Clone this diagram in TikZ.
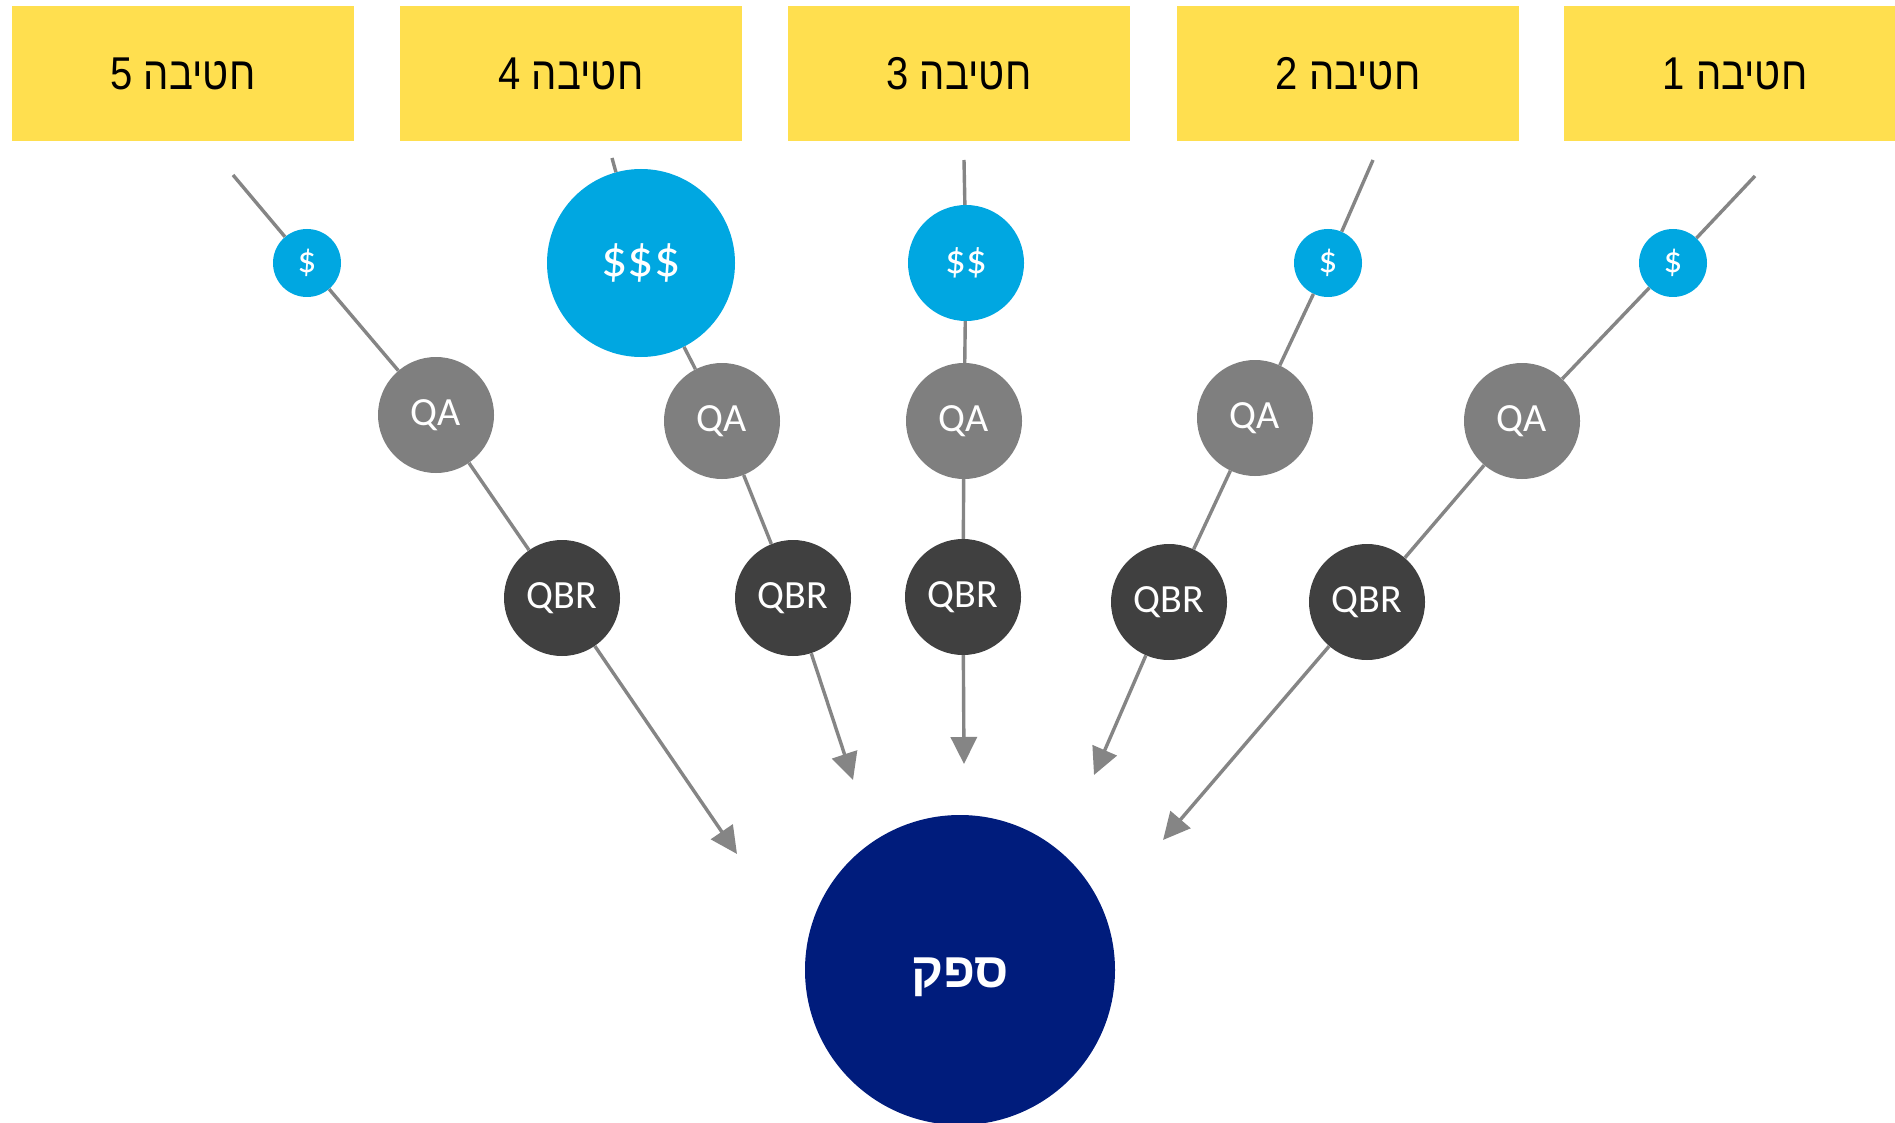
\documentclass[tikz,border=0pt]{standalone}
\usepackage{fontspec}
\usepackage{graphicx}
\setmainfont{Carlito}
\newfontfamily\hebfont[Script=Hebrew]{Liberation Sans}
\TeXXeTstate=1
\usetikzlibrary{arrows.meta}
\definecolor{hdr}{HTML}{FFDF4F}
\definecolor{cblue}{HTML}{00A7E1}
\definecolor{cgray}{HTML}{7F7F7F}
\definecolor{cdark}{HTML}{404040}
\definecolor{cnavy}{HTML}{001C7C}
\definecolor{lgray}{HTML}{858585}
\newcommand{\hebtitle}[1]{\raisebox{-2pt}{\scalebox{1}[1.15]{\beginR #1\endR}}}
\begin{document}
\begin{tikzpicture}[x=1pt,y=-1pt,
  hdrbox/.style={fill=hdr, minimum width=342pt, minimum height=135pt, inner sep=0pt,
    font=\hebfont\fontsize{40}{48}\selectfont},
  money/.style={circle, fill=cblue, text=white, inner sep=0pt},
  m1/.style={money, minimum size=68pt, font=\fontsize{37}{44}\selectfont},
  m2/.style={money, minimum size=116pt, font=\fontsize{41}{48}\selectfont},
  m3/.style={money, minimum size=188pt, font=\fontsize{52}{60}\selectfont},
  qa/.style={circle, fill=cgray, text=white, minimum size=116pt, inner sep=0pt,
    font=\fontsize{40}{48}\selectfont},
  qbr/.style={circle, fill=cdark, text=white, minimum size=116pt, inner sep=0pt,
    font=\fontsize{40}{48}\selectfont},
  link/.style={draw=lgray, line width=3.4pt},
  arr/.style={link, -{Triangle[length=27pt,width=26pt]}}
]
\useasboundingbox (0,0) rectangle (1895,1123);
\fill[white] (0,0) rectangle (1895,1123);

% header boxes
\node[hdrbox] (h5) at (183,73.5) {\hebtitle{חטיבה 5}};
\node[hdrbox] (h4) at (571,73.5) {\hebtitle{חטיבה 4}};
\node[hdrbox] (h3) at (959,73.5) {\hebtitle{חטיבה 3}};
\node[hdrbox] (h2) at (1348,73.5) {\hebtitle{חטיבה 2}};
\node[hdrbox] (h1) at (1735,73.5) {\hebtitle{חטיבה 1}};

% free ends
\coordinate (t5) at (233,175);
\coordinate (t4) at (612,158);
\coordinate (t3) at (964,160);
\coordinate (t2) at (1373,160);
\coordinate (t1) at (1755,176);
\coordinate (e5) at (737,854);
\coordinate (e4) at (853,780);
\coordinate (e3) at (964,764);
\coordinate (e2) at (1094,775);
\coordinate (e1) at (1163,840);

% column 5
\node[m1] (d5) at (307,263) {\$};
\node[qa] (q5) at (436,415) {QA};
\node[qbr] (b5) at (562,598) {QBR};
% column 4
\node[m3] (d4) at (641,263) {\$\$\$};
\node[qa] (q4) at (722,421) {QA};
\node[qbr] (b4) at (793,598) {QBR};
% column 3
\node[m2] (d3) at (966,263) {\$\$};
\node[qa] (q3) at (964,421) {QA};
\node[qbr] (b3) at (963,597) {QBR};
% column 2
\node[m1] (d2) at (1328,263) {\$};
\node[qa] (q2) at (1255,418) {QA};
\node[qbr] (b2) at (1169,602) {QBR};
% column 1
\node[m1] (d1) at (1673,263) {\$};
\node[qa] (q1) at (1522,421) {QA};
\node[qbr] (b1) at (1367,602) {QBR};

% supplier
\node[circle, fill=cnavy, text=white, minimum size=310pt, inner sep=0pt,
  font=\hebfont\bfseries\fontsize{49}{56}\selectfont] (s) at (960,970)
  {\raisebox{-17pt}[0pt][0pt]{\beginR ספק\endR}};

% connectors
\foreach \i in {1,...,5}{
  \draw[link] (t\i) -- (d\i) -- (q\i) -- (b\i);
  \draw[arr] (b\i) -- (e\i);
}
\end{tikzpicture}
\end{document}
